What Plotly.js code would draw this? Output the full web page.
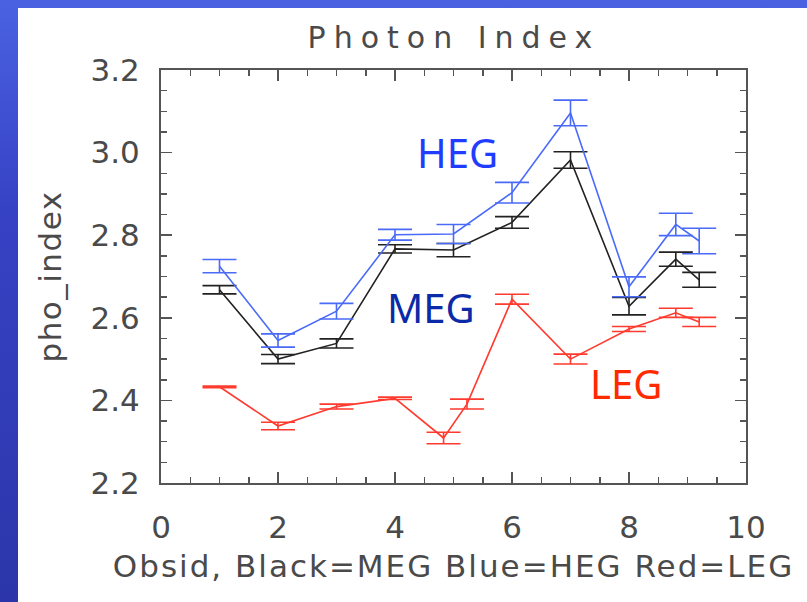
<!DOCTYPE html>
<html>
<head>
<meta charset="utf-8">
<script src="https://cdn.plot.ly/plotly-3.0.1.min.js"></script>
<style>
  html, body { margin: 0; padding: 0; width: 807px; height: 602px; overflow: hidden;
    background: linear-gradient(to bottom, #4a62e2 0%, #3642c4 35%, #2c36aa 100%); }
  #chart { width: 807px; height: 602px; }
  .gtitle { letter-spacing: 8px; }
  .xtitle { letter-spacing: 2px; }
  .ytitle { letter-spacing: 1.5px; }
</style>
</head>
<body>
<div id="chart"></div>
<script>
// MEG (black) and HEG (blue) observations
var obsMH = [1, 2, 3, 4, 5, 6, 7, 8, 8.8, 9.2];
var megIndex = [2.668, 2.500, 2.538, 2.767, 2.764, 2.831, 2.982, 2.628, 2.742, 2.692];
var megErr   = [0.010, 0.011, 0.011, 0.010, 0.016, 0.014, 0.020, 0.021, 0.017, 0.018];
var hegIndex = [2.725, 2.545, 2.616, 2.801, 2.803, 2.903, 3.096, 2.675, 2.826, 2.786];
var hegErr   = [0.016, 0.016, 0.019, 0.013, 0.023, 0.025, 0.031, 0.024, 0.027, 0.031];
// LEG (red) observations
var obsL     = [1, 2, 3, 4, 4.83, 5.23, 6, 7, 8, 8.8, 9.2];
var legIndex = [2.433, 2.338, 2.385, 2.405, 2.309, 2.391, 2.645, 2.500, 2.573, 2.612, 2.590];
var legErr   = [0.002, 0.009, 0.006, 0.003, 0.014, 0.012, 0.012, 0.012, 0.006, 0.011, 0.011];
var xTicks = [0, 2, 4, 6, 8, 10];
var yTicks = [2.2, 2.4, 2.6, 2.8, 3.0, 3.2];

var colMEG = '#222222', colHEG = '#4a6af8', colLEG = '#ff3a2e';

function series(x, y, e, col, name) {
  return {
    type: 'scatter', mode: 'lines', name: name, x: x, y: y,
    line: { color: col, width: 1.6 },
    error_y: { type: 'data', array: e, visible: true, color: col, thickness: 1.6, width: 17 },
    showlegend: false, hoverinfo: 'x+y'
  };
}

var data = [
  series(obsMH, megIndex, megErr, colMEG, 'MEG'),
  series(obsMH, hegIndex, hegErr, colHEG, 'HEG'),
  series(obsL, legIndex, legErr, colLEG, 'LEG')
];

var txtCol = '#4a4a4a';
var tickFont = { family: 'DejaVu Sans', size: 31, color: txtCol };
var axisCommon = {
  showline: true, linecolor: '#555', linewidth: 2, mirror: 'ticks',
  ticks: 'inside', ticklen: 11, tickwidth: 1.5, tickcolor: '#555',
  showgrid: false, zeroline: false, tickfont: tickFont
};

var layout = {
  width: 807, height: 602,
  paper_bgcolor: 'rgba(0,0,0,0)', plot_bgcolor: 'white',
  margin: { l: 161, r: 61, t: 70, b: 119 },
  title: { text: 'Photon Index', font: { family: 'DejaVu Sans', size: 30, color: txtCol },
           x: 0.5625, xanchor: 'center', xref: 'container', y: 1 - 37/602, yanchor: 'middle', yref: 'container' },
  xaxis: Object.assign({}, axisCommon, {
    range: [0, 10], tickvals: xTicks, ticktext: xTicks.map(String),
    minor: { ticks: 'inside', dtick: 0.5, ticklen: 6, tickwidth: 1.5, tickcolor: '#555' },
    ticklabelstandoff: 16,
    title: { text: 'Obsid, Black=MEG Blue=HEG Red=LEG', standoff: 11,
             font: { family: 'DejaVu Sans', size: 31, color: txtCol } }
  }),
  yaxis: Object.assign({}, axisCommon, {
    range: [2.2, 3.2], tickvals: yTicks, ticktext: yTicks.map(function(v){ return v.toFixed(1); }),
    minor: { ticks: 'inside', dtick: 0.05, ticklen: 6, tickwidth: 1.5, tickcolor: '#555' },
    ticklabelstandoff: 13,
    title: { text: 'pho_index', standoff: 20,
             font: { family: 'DejaVu Sans', size: 31, color: txtCol } }
  }),
  shapes: [{
    type: 'rect', xref: 'paper', yref: 'paper', layer: 'below',
    x0: (18 - 161) / 585, x1: (807 - 161) / 585,
    y0: (483 - 602) / 413, y1: (483 - 8) / 413,
    fillcolor: 'white', line: { width: 0 }
  }],
  annotations: [
    { text: 'HEG', x: 5.06, y: 3.001, xref: 'x', yref: 'y', showarrow: false,
      font: { family: 'Noto Sans', size: 40, color: '#1f3cff' } },
    { text: 'MEG', x: 4.62, y: 2.626, xref: 'x', yref: 'y', showarrow: false,
      font: { family: 'Noto Sans', size: 40, color: '#0a2aa8' } },
    { text: 'LEG', x: 7.95, y: 2.44, xref: 'x', yref: 'y', showarrow: false,
      font: { family: 'Noto Sans', size: 40, color: '#ff2a00' } }
  ]
};

Plotly.newPlot('chart', data, layout, { displayModeBar: false, staticPlot: true });
</script>
</body>
</html>
